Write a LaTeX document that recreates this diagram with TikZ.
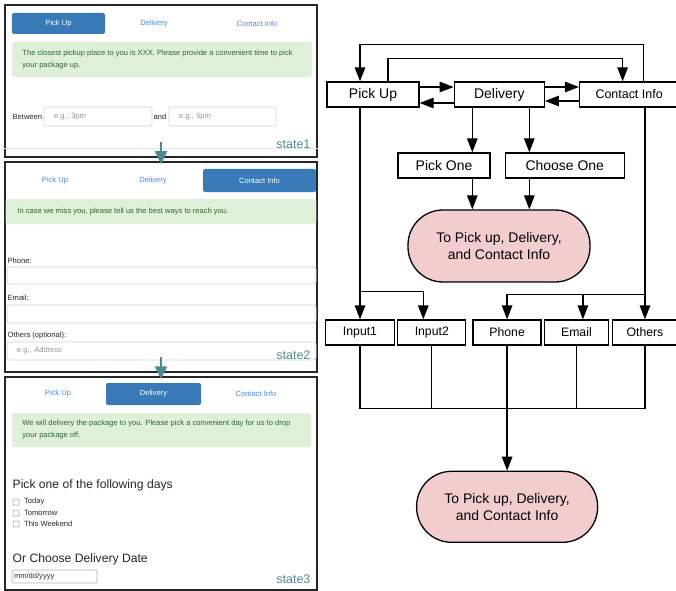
\documentclass[tikz,border=0pt]{standalone}
\usepackage{fontspec}
\setmainfont{Liberation Sans}
\usepackage{xcolor}
\usepackage{tikz}
\usetikzlibrary{positioning, shapes, arrows.meta}

\definecolor{tabblue}{RGB}{55,122,183}
\definecolor{linkblue}{RGB}{74,134,232}
\definecolor{alertfill}{RGB}{223,240,216}
\definecolor{alertink}{RGB}{50,100,52}
\definecolor{stateteal}{RGB}{78,138,148}
\definecolor{fieldgray}{RGB}{210,210,210}
\definecolor{hintgray}{RGB}{150,150,150}
\definecolor{goalpink}{RGB}{242,205,206}

\newcommand{\uifont}{\fontsize{7.6}{12}\selectfont}

\begin{document}
\begin{tikzpicture}[x=1bp, y=-1bp, line width=1.3bp, >={Triangle[length=14bp,width=10.5bp]},
    box/.style={draw, rectangle, minimum height=25bp, inner sep=0pt, font=\fontsize{14}{17}\selectfont},
    smallbox/.style={box, font=\fontsize{12.3}{15}\selectfont},
    goal/.style={draw, rectangle, fill=goalpink, rounded corners=35bp, minimum width=182bp, minimum height=72bp, align=center, font=\fontsize{14}{17}\selectfont},
    panel/.style={draw=black!85, line width=1.5bp, minimum width=312bp, inner sep=0pt},
    tabon/.style={fill=tabblue, rounded corners=2bp, text=white, font=\uifont},
    tablink/.style={text=linkblue, font=\uifont, inner sep=0pt},
    alertbox/.style={fill=alertfill, draw=alertfill!85!black!20, line width=0.4bp, rounded corners=2bp, inner sep=0pt},
    alerttext/.style={text=alertink, align=left, font=\uifont, inner sep=0pt},
    uilabel/.style={text=black!85, font=\uifont, inner sep=0pt},
    heading/.style={text=black!85, font=\fontsize{12.2}{14}\selectfont, inner sep=0pt},
    field/.style={draw=fieldgray, fill=white, rounded corners=2bp, line width=0.7bp, inner xsep=10bp, inner ysep=0pt, align=left, text=hintgray, font=\uifont},
    checkbox/.style={draw=hintgray, rounded corners=1bp, minimum size=6bp, inner sep=0pt, line width=0.5bp},
    statelabel/.style={text=stateteal, font=\fontsize{12.5}{14}\selectfont, inner sep=0pt},
    stepflow/.style={draw=stateteal, line width=1.6bp, -{Triangle[length=13bp,width=12bp]}}]

    \useasboundingbox (0,0) rectangle (676,591);

    % Screen states
    \node[panel, minimum height=152bp] (state1) at (161,81) {};
    \node[panel, minimum height=210bp] (state2) at (161,267) {};
    \node[panel, minimum height=213bp] (state3) at (161,483.5) {};

    % State 1: pick up
    \node[tabon, minimum width=93bp, minimum height=21bp] (s1pickup) at (58.5,23.5) {Pick Up};
    \node[tablink] (s1delivery) at (154,23.5) {Delivery};
    \node[tablink] (s1contact) at (257,23.5) {Contact Info};
    \node[alertbox, minimum width=300bp, minimum height=35bp] (s1note) at (162,59.5) {};
    \node[alerttext, anchor=west] (s1notetext) at ([xshift=10bp]s1note.west) {The closest pickup place to you is XXX. Please provide a convenient time to pick\\your package up.};
    \node[uilabel, anchor=west] (s1between) at (12,117) {Between};
    \node[field, text width=88bp, minimum height=19bp] (s1from) at (98,116.5) {e.g., 3pm};
    \node[uilabel, anchor=west] (s1and) at (153,117) {and};
    \node[field, text width=87bp, minimum height=19bp] (s1to) at (222.5,116.5) {e.g., 5pm};
    \draw[fieldgray!60, line width=0.6bp] ([yshift=9bp]state1.south west) -- ([yshift=9bp]state1.south east);
    \node[statelabel, anchor=east] (s1label) at (311,144) {state1};

    % State 2: contact info
    \node[tablink] (s2pickup) at (55,181) {Pick Up};
    \node[tablink] (s2delivery) at (153,181) {Delivery};
    \node[tabon, minimum width=113bp, minimum height=23bp] (s2contact) at (259.5,180.5) {Contact Info};
    \node[alertbox, minimum width=310bp, minimum height=25bp] (s2note) at (161,211.5) {};
    \node[alerttext, anchor=west] (s2notetext) at ([xshift=11bp]s2note.west) {In case we miss you, please tell us the best ways to reach you.};
    \node[uilabel, anchor=west] (s2phone) at (7,261) {Phone:};
    \node[field, minimum width=309bp, minimum height=17bp] (s2phonefield) at (161.5,275.5) {};
    \node[uilabel, anchor=west] (s2email) at (7,298) {Email:};
    \node[field, minimum width=309bp, minimum height=18bp] (s2emailfield) at (161.5,314) {};
    \node[uilabel, anchor=west] (s2others) at (7,336) {Others (optional):};
    \node[field, text width=289bp, minimum height=18bp] (s2othersfield) at (161.5,351) {e.g., Address};
    \node[statelabel, anchor=east] (s2label) at (311,355) {state2};

    % State 3: delivery
    \node[tablink] (s3pickup) at (58,394) {Pick Up};
    \node[tabon, minimum width=95bp, minimum height=22bp] (s3delivery) at (153.5,394) {Delivery};
    \node[tablink] (s3contact) at (256,394) {Contact Info};
    \node[alertbox, minimum width=299bp, minimum height=34bp] (s3note) at (161.5,430) {};
    \node[alerttext, anchor=west] (s3notetext) at ([xshift=10bp]s3note.west) {We will delivery the package to you. Please pick a convenient day for us to drop\\your package off.};
    \node[heading, anchor=west] (s3pick) at (12,485) {Pick one of the following days};
    \foreach \y/\day [count=\i] in {502/Today, 513/Tomorrow, 524/This Weekend} {
        \node[checkbox] (s3check\i) at (16,\y) {};
        \node[uilabel, anchor=west] (s3day\i) at (23.5,\y) {\day};
    }
    \node[heading, anchor=west] (s3choose) at (12,559) {Or Choose Delivery Date};
    \node[field, draw=black!30, text=black!80, inner xsep=2bp, text width=81bp, minimum height=13bp] (s3date) at (54.5,576.5) {mm/dd/yyyy};
    \node[statelabel, anchor=east] (s3label) at (311,579) {state3};

    % Steps between states
    \draw[stepflow] ([yshift=16bp]state1.south) -- ([yshift=-3bp]state2.north);
    \draw[stepflow] ([yshift=16bp]state2.south) -- ([yshift=-3bp]state3.north);

    % Tab nodes
    \node[box, minimum width=92bp] (pickup) at (373,94.5) {Pick Up};
    \node[box, minimum width=90bp, right=34bp of pickup] (delivery) {Delivery};
    \node[box, minimum width=99bp, right=34bp of delivery, font=\fontsize{12.5}{15}\selectfont] (contact) {Contact Info};

    % Delivery options
    \node[box, minimum width=92bp] (pickone) at (444,165.5) {Pick One};
    \node[box, minimum width=119bp, right=14bp of pickone] (chooseone) {Choose One};
    \node[goal] (goal1) at (499,246) {To Pick up, Delivery,\\and Contact Info};

    % Input nodes
    \node[smallbox, minimum width=69bp] (input1) at (360,332.5) {Input1};
    \node[smallbox, minimum width=68bp, right=2bp of input1] (input2) {Input2};
    \node[smallbox, minimum width=68bp, right=6bp of input2] (phone) {Phone};
    \node[smallbox, minimum width=64bp, right=2bp of phone] (email) {Email};
    \node[smallbox, minimum width=64.5bp, right=3bp of email] (others) {Others};
    \node[goal, minimum width=181bp, minimum height=71bp, below=125bp of phone] (goal2) {To Pick up, Delivery,\\and Contact Info};

    % Connections: between tabs
    \draw[->] ([yshift=7.5bp]pickup.east) -- ([yshift=7.5bp]delivery.west);
    \draw[->] ([yshift=-8.5bp]delivery.west) -- ([yshift=-8.5bp]pickup.east);
    \draw[->] ([yshift=7.5bp]delivery.east) -- ([yshift=7.5bp]contact.west);
    \draw[->] ([yshift=-6.5bp]contact.west) -- ([yshift=-6.5bp]delivery.east);
    \draw[->] ([xshift=14.5bp]contact.north) -- ++(0,-37) -| ([xshift=-13bp]pickup.north);
    \draw[->] ([xshift=15bp]pickup.north) -- ++(0,-23) -| ([xshift=-6.5bp]contact.north);

    % Connections: delivery to options
    \coordinate (d1) at ([xshift=-27bp]delivery.south);
    \coordinate (d2) at ([xshift=30bp]delivery.south);
    \draw[->] (d1) -- (d1 |- pickone.north);
    \draw[->] (d2) -- (d2 |- chooseone.north);
    \draw[->] (d1 |- pickone.south) -- (d1 |- goal1.north);
    \draw[->] (d2 |- chooseone.south) -- (d2 |- goal1.north);

    % Connections: pick up and contact info to inputs
    \coordinate (splitL) at ([yshift=28bp]input1.north);
    \coordinate (splitR) at ([yshift=25bp]others.north);
    \coordinate (e1) at ([xshift=6.5bp]email.north);
    \draw[->] (pickup.south -| input1) -- (input1.north);
    \draw[->] (splitL) -| ([xshift=-8.5bp]input2.north);
    \draw[->] (contact.south -| others) -- (others.north);
    \draw[->] (splitR) -| (phone.north);
    \draw[->] (e1 |- splitR) -- (e1);

    % Connections: inputs to output
    \coordinate (merge) at ([yshift=-63bp]phone.south);
    \draw (input1.south) |- (merge) -| (others.south);
    \draw (input2.south) -- (input2.south |- merge);
    \draw (email.south) -- (email.south |- merge);
    \draw[->] (phone.south) -- (goal2.north);

\end{tikzpicture}
\end{document}
